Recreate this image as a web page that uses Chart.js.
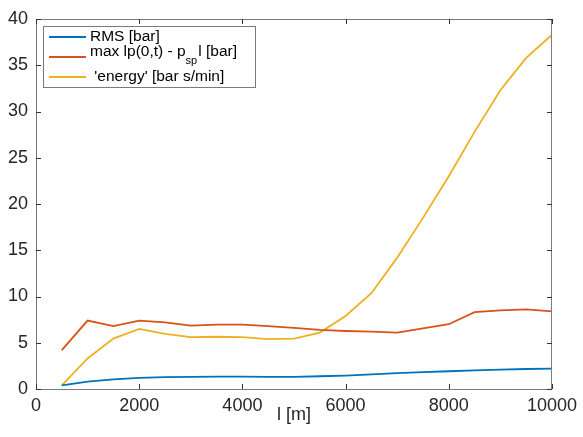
<!DOCTYPE html>
<html>
<head>
<meta charset="utf-8">
<script src="https://cdn.jsdelivr.net/npm/chart.js@4/dist/chart.umd.min.js"></script>
<style>
    html, body { margin: 0; padding: 0; background: #fff; }
    #wrap { width: 583px; height: 437px; }
</style>
</head>
<body>
<div id="wrap"><canvas id="pipeChart" width="583" height="437"></canvas></div>
<script>
// pipe length l [m]
const lengths = [500, 1000, 1500, 2000, 2500, 3000, 3500, 4000, 4500, 5000,
                 5500, 6000, 6500, 7000, 7500, 8000, 8500, 9000, 9500, 10000];
const rmsBar = [0.4, 0.8, 1.05, 1.2, 1.28, 1.32, 1.33, 1.33, 1.32, 1.32,
                1.38, 1.45, 1.58, 1.72, 1.82, 1.92, 2.02, 2.1, 2.16, 2.2];
const maxDevBar = [4.2, 7.4, 6.8, 7.4, 7.2, 6.85, 6.95, 6.95, 6.8, 6.6,
                   6.4, 6.27, 6.2, 6.1, 6.55, 7.0, 8.3, 8.5, 8.6, 8.4];
const energyBar = [0.4, 3.3, 5.45, 6.5, 5.95, 5.6, 5.65, 5.6, 5.4, 5.45,
                   6.1, 7.9, 10.35, 14.2, 18.5, 23.0, 27.8, 32.3, 35.8, 38.3];
const xTicks = [0, 2000, 4000, 6000, 8000, 10000];
const yTicks = [0, 5, 10, 15, 20, 25, 30, 35, 40];

const FONT = "'Liberation Sans', Helvetica, Arial, sans-serif";
const AXIS_GRAY = "#7a7a7a";
const TEXT_GRAY = "#262626";

function toPoints(values) {
    return lengths.map((l, i) => ({ x: l, y: values[i] }));
}

// legend entries; the max-deviation label carries a subscript part
const legendItems = [
    { color: "#0072BD", parts: [["RMS [bar]", false]] },
    { color: "#D95319", parts: [["max lp(0,t) - p", false], ["sp", true], ["l [bar]", false]] },
    { color: "#EDB120", parts: [[" 'energy' [bar s/min]", false]] }
];

// MATLAB style box: frame + inward ticks on all four sides, plus legend
const boxPlugin = {
    id: "matlabBox",
    afterDatasetsDraw(chart) {
        const { ctx, chartArea: a, scales } = chart;
        ctx.save();
        ctx.strokeStyle = AXIS_GRAY;
        ctx.lineWidth = 1;
        ctx.strokeRect(a.left + 0.5, a.top + 0.5, a.right - a.left - 1, a.bottom - a.top);
        ctx.beginPath();
        xTicks.forEach(v => {
            const px = Math.round(scales.x.getPixelForValue(v)) + 0.5;
            ctx.moveTo(px, a.bottom); ctx.lineTo(px, a.bottom - 5);
            ctx.moveTo(px, a.top); ctx.lineTo(px, a.top + 5);
        });
        yTicks.forEach(v => {
            const py = Math.round(scales.y.getPixelForValue(v)) + 0.5;
            ctx.moveTo(a.left, py); ctx.lineTo(a.left + 5, py);
            ctx.moveTo(a.right, py); ctx.lineTo(a.right - 5, py);
        });
        ctx.strokeStyle = "#333";
        ctx.stroke();

        // legend
        const lx = a.left + 7, ly = a.top + 7, lw = 212, lh = 61;
        ctx.fillStyle = "#fff";
        ctx.fillRect(lx, ly, lw, lh);
        ctx.strokeStyle = AXIS_GRAY;
        ctx.strokeRect(lx + 0.5, ly + 0.5, lw, lh);
        const rowY = [ly + 11, ly + 31, ly + 51];
        legendItems.forEach((item, i) => {
            const y = rowY[i];
            ctx.beginPath();
            ctx.strokeStyle = item.color;
            ctx.lineWidth = 2;
            ctx.moveTo(lx + 6, y); ctx.lineTo(lx + 43, y);
            ctx.stroke();
            let tx = lx + 47;
            const hasSub = item.parts.some(p => p[1]);
            ctx.fillStyle = "#000";
            ctx.textBaseline = "middle";
            item.parts.forEach(([txt, sub]) => {
                ctx.font = (sub ? "11px " : "15.5px ") + FONT;
                const ty = sub ? y + 4 : (hasSub ? y - 5 : y);
                ctx.fillText(txt, tx, ty);
                tx += ctx.measureText(txt).width + (sub ? 1 : 0);
            });
        });
        ctx.restore();
    }
};

new Chart(document.getElementById("pipeChart"), {
    type: "line",
    data: {
        datasets: [
            { label: "RMS [bar]", data: toPoints(rmsBar), borderColor: "#0072BD" },
            { label: "max lp(0,t) - psp l [bar]", data: toPoints(maxDevBar), borderColor: "#D95319" },
            { label: "'energy' [bar s/min]", data: toPoints(energyBar), borderColor: "#EDB120" }
        ]
    },
    options: {
        responsive: false,
        animation: false,
        layout: { padding: { top: 19, right: 26, left: 0, bottom: 0 } },
        elements: {
            point: { radius: 0 },
            line: { borderWidth: 1.8, tension: 0 }
        },
        scales: {
            x: {
                type: "linear",
                min: 0, max: 10000,
                afterBuildTicks: s => { s.ticks = xTicks.map(v => ({ value: v })); },
                afterFit: s => { s.height = 48; },
                grid: { display: false, drawTicks: false },
                border: { display: false },
                ticks: {
                    padding: 6, maxRotation: 0, color: TEXT_GRAY,
                    font: { family: FONT, size: 18 },
                    callback: v => String(v)
                },
                title: {
                    display: true, text: "l [m]", color: TEXT_GRAY,
                    font: { family: FONT, size: 18 },
                    padding: { top: 0, bottom: 11 }
                }
            },
            y: {
                min: 0, max: 40,
                afterBuildTicks: s => { s.ticks = yTicks.map(v => ({ value: v })); },
                afterFit: s => { s.width = 36; },
                grid: { display: false, drawTicks: false },
                border: { display: false },
                ticks: {
                    padding: 8, color: TEXT_GRAY,
                    font: { family: FONT, size: 18 }
                }
            }
        },
        plugins: {
            legend: { display: false },
            tooltip: { enabled: false }
        }
    },
    plugins: [boxPlugin]
});
</script>
</body>
</html>
